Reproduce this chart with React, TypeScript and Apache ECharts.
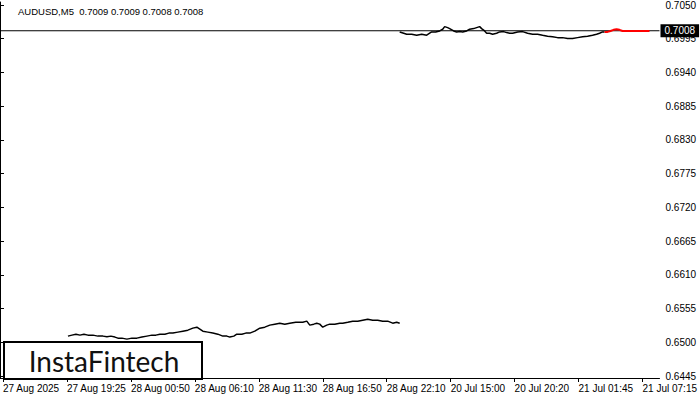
import React, { useEffect, useRef } from "react";
import * as echarts from "echarts";

// bar index (one M5 bar per pixel column) and close prices
const leftBars = [68, 72, 76, 80, 84, 88, 93, 98, 103, 107, 111, 115, 118, 122, 127, 132, 137, 142, 147, 152, 156, 160, 165, 169, 173, 178, 183, 188, 193, 197, 200, 203, 208, 213, 218, 223, 227, 230, 234, 237, 242, 246, 250, 255, 260, 265, 270, 275, 280, 285, 290, 296, 303, 307, 310, 314, 317, 320, 323, 327, 330, 335, 340, 343, 348, 353, 358, 363, 368, 373, 378, 383, 388, 393, 397, 400];
const leftClose = [0.65101, 0.65117, 0.65133, 0.65117, 0.65133, 0.65117, 0.65117, 0.65101, 0.65101, 0.65089, 0.65101, 0.65085, 0.65068, 0.65068, 0.65052, 0.65068, 0.65068, 0.65085, 0.65101, 0.65117, 0.65117, 0.65133, 0.65133, 0.6515, 0.6515, 0.65166, 0.65182, 0.65198, 0.65231, 0.65247, 0.65215, 0.65182, 0.65166, 0.6515, 0.65133, 0.65101, 0.65101, 0.65085, 0.65101, 0.65133, 0.65133, 0.6515, 0.6515, 0.65182, 0.65231, 0.65247, 0.6528, 0.65296, 0.65312, 0.65296, 0.65312, 0.65328, 0.65328, 0.65345, 0.6528, 0.65296, 0.65312, 0.65296, 0.65247, 0.6528, 0.65296, 0.65296, 0.65312, 0.65312, 0.65328, 0.65345, 0.65345, 0.65361, 0.65377, 0.65361, 0.65361, 0.65345, 0.65345, 0.65312, 0.65328, 0.65312];

const rightBars = [400, 404, 407, 412, 417, 422, 427, 430, 432, 436, 440, 443, 445, 448, 450, 454, 457, 460, 463, 467, 470, 474, 477, 480, 482, 485, 487, 490, 493, 497, 500, 504, 507, 510, 513, 518, 523, 528, 533, 538, 543, 548, 553, 558, 563, 568, 573, 578, 583, 588, 593, 597, 600, 603, 605];
const rightClose = [0.70061, 0.7004, 0.70024, 0.70024, 0.70007, 0.70024, 0.70007, 0.7004, 0.70061, 0.70061, 0.70077, 0.70105, 0.70147, 0.70131, 0.70115, 0.70077, 0.70061, 0.70066, 0.70061, 0.70077, 0.70105, 0.70115, 0.70131, 0.70147, 0.70115, 0.70077, 0.7004, 0.7004, 0.70024, 0.7004, 0.70061, 0.70066, 0.7005, 0.7004, 0.7004, 0.70061, 0.70066, 0.7004, 0.70024, 0.70024, 0.70007, 0.69991, 0.69984, 0.69968, 0.69968, 0.69952, 0.69952, 0.69968, 0.69984, 0.69991, 0.70007, 0.70024, 0.7004, 0.70061, 0.70061];

const redBars = [605, 608, 611, 614, 617, 620, 623, 628, 633, 638, 643, 647, 650];
const redClose = [0.70061, 0.70061, 0.70077, 0.70095, 0.70105, 0.70095, 0.70077, 0.70077, 0.70077, 0.70077, 0.70077, 0.70077, 0.70077];

const currentPrice = 0.7008;
const titleText = "AUDUSD,M5  0.7009 0.7009 0.7008 0.7008";

const xTickBars = [3, 67, 131, 195, 259, 323, 387, 451, 515, 579, 643];
const xTickLabels = ["27 Aug 2025", "27 Aug 19:25", "28 Aug 00:50", "28 Aug 06:10", "28 Aug 11:30", "28 Aug 16:50", "28 Aug 22:10", "20 Jul 15:00", "20 Jul 20:20", "21 Jul 01:45", "21 Jul 07:15"];

const yTicks = [0.6445, 0.65, 0.6555, 0.661, 0.6665, 0.672, 0.6775, 0.683, 0.6885, 0.694, 0.6995, 0.705];
const yTickLabels = ["0.6445", "0.6500", "0.6555", "0.6610", "0.6665", "0.6720", "0.6775", "0.6830", "0.6885", "0.6940", "0.6995", "0.7050"];

const FONT = "Liberation Sans";

function pairs(xs: number[], ys: number[]) {
  return xs.map((x, i) => [x, ys[i]]);
}

export default function App() {
  const ref = useRef<HTMLDivElement>(null);
  useEffect(() => {
    if (!ref.current) return;
    const chart = echarts.init(ref.current, undefined, { renderer: "svg" });
    const xMap: Record<number, string> = {};
    xTickBars.forEach((b, i) => (xMap[b] = xTickLabels[i]));
    const yMap: Record<string, string> = {};
    yTicks.forEach((v, i) => (yMap[v.toFixed(4)] = yTickLabels[i]));
    chart.setOption({
      animation: false,
      backgroundColor: "#ffffff",
      grid: { left: 0, right: 40, top: 1, bottom: 22 },
      title: {
        text: titleText,
        left: 18,
        top: 6,
        padding: 0,
        textStyle: { fontFamily: FONT, fontSize: 9.5, fontWeight: "normal", color: "#000" },
      },
      xAxis: {
        type: "value",
        min: 0,
        max: 660,
        splitLine: { show: false },
        axisLine: { show: true, onZero: false, lineStyle: { color: "#000", width: 1 } },
        axisTick: { show: true, length: 4, inside: false, customValues: xTickBars, lineStyle: { color: "#000" } },
        axisLabel: {
          customValues: xTickBars,
          formatter: (v: number) => xMap[Math.round(v)] ?? "",
          align: "left",
          margin: 5,
          color: "#000",
          fontFamily: FONT,
          fontSize: 10,
        },
      },
      yAxis: {
        type: "value",
        position: "right",
        min: 0.64418,
        max: 0.70549,
        splitLine: { show: false },
        axisLine: { show: true, lineStyle: { color: "#000", width: 1 } },
        axisTick: { show: true, length: 4, customValues: yTicks, lineStyle: { color: "#000" } },
        axisLabel: {
          customValues: yTicks,
          formatter: (v: number) => yMap[v.toFixed(4)] ?? "",
          margin: 6,
          color: "#000",
          fontFamily: FONT,
          fontSize: 10,
        },
      },
      series: [
        {
          type: "line",
          data: [
            [0, currentPrice],
            [660, currentPrice],
          ],
          showSymbol: false,
          silent: true,
          lineStyle: { color: "#000", width: 1 },
          z: 1,
          endLabel: {
            show: true,
            distance: 1,
            formatter: currentPrice.toFixed(4),
            backgroundColor: "#000",
            color: "#fff",
            padding: [2, 4, 1, 4],
            fontFamily: FONT,
            fontSize: 10,
          },
        },
        {
          type: "line",
          data: pairs(leftBars, leftClose),
          showSymbol: false,
          lineStyle: { color: "#000", width: 1.5 },
          z: 2,
        },
        {
          type: "line",
          data: pairs(rightBars, rightClose),
          showSymbol: false,
          lineStyle: { color: "#000", width: 1.5 },
          z: 2,
        },
        {
          type: "line",
          data: pairs(redBars, redClose),
          showSymbol: false,
          lineStyle: { color: "#ff0000", width: 2 },
          z: 3,
        },
      ],
      graphic: [
        {
          type: "group",
          left: 3,
          top: 341,
          z: 100,
          children: [
            {
              type: "rect",
              shape: { x: 0, y: 0, width: 198, height: 37 },
              style: { fill: "#fff", stroke: "#000", lineWidth: 2 },
            },
            {
              type: "text",
              x: 100,
              y: 19,
              style: {
                text: "InstaFintech",
                fill: "#111",
                font: "normal 28px Lato",
                textAlign: "center",
                textVerticalAlign: "middle",
              },
            },
          ],
        },
      ],
    });
    return () => chart.dispose();
  }, []);
  return <div ref={ref} style={{ width: 700, height: 400, position: "absolute", left: 0, top: 0 }} />;
}
